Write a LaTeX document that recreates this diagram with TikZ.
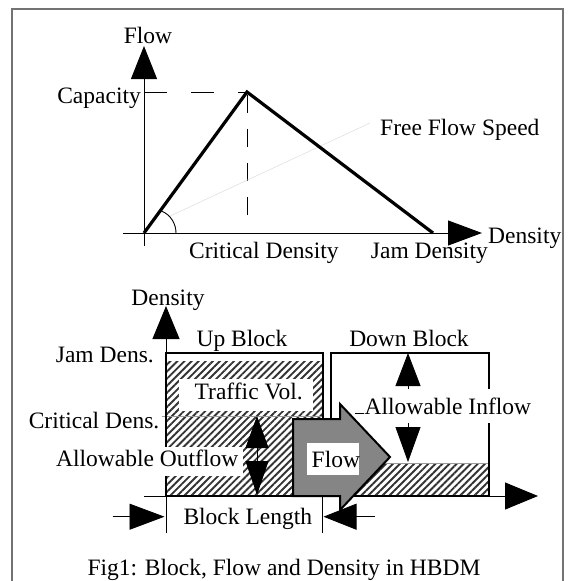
\documentclass[tikz,border=0pt]{standalone}
\usepackage{fontspec}
\setmainfont{Liberation Serif}
\usetikzlibrary{arrows.meta,patterns.meta}
\begin{document}
\begin{tikzpicture}[x=1pt,y=-1pt,
  font=\fontsize{23.5}{28}\selectfont,
  txt/.style={inner sep=0pt},
  axisline/.style={line width=1pt},
  blockline/.style={line width=2.2pt},
  hatch/.style={pattern={Lines[angle=45,distance=5pt,line width=1.9pt]},pattern color=black!80},
  thinrule/.style={black!40,line width=0.6pt}]
\useasboundingbox (0,0) rectangle (573,581);
% frame
\draw[black!55,line width=1.2pt] (12,9) rectangle (563,640);

% ---------- top chart ----------
\coordinate (O) at (144,233);
\coordinate (YB) at (144,246);
\coordinate (YT) at (144,46);
\coordinate (XL) at (123,233);
\coordinate (XR) at (482,233);
\coordinate (P) at (247,92);
\coordinate (J) at (433,233);
\coordinate (CapL) at (144,92);
\coordinate (CritT) at (247,95);
\coordinate (CritB) at (247,215);
\coordinate (FF1) at (168,217);
\coordinate (FF2) at (370,123);
\coordinate (ArcA) at (176,233);
\coordinate (ArcB) at (161.5,211);

\draw[axisline,-{Triangle[length=33pt,width=26pt]}] (YB) -- (YT);
\draw[axisline,-{Triangle[length=34pt,width=25pt]}] (XL) -- (XR);
\draw[line width=1pt,dash pattern=on 23pt off 24pt] (CapL) -- (P);
\draw[line width=1pt,dash pattern=on 18pt off 16pt] (CritT) -- (CritB);
\draw[black!12,line width=0.6pt] (FF1) -- (FF2);
\draw[line width=0.9pt] (ArcA) .. controls (176,224) and (171,215) .. (ArcB);
\draw[line width=3.2pt] (O) -- (P) -- (J);

\node[txt,anchor=base] (tFlow) at (148,43) {Flow};
\node[txt,anchor=base east] (tCap) at (141,103.5) {Capacity};
\node[txt,anchor=base west] (tFFS) at (380,135) {Free Flow Speed};
\node[txt,anchor=base west] (tCrit) at (189,258) {Critical Density};
\node[txt,anchor=base east] (tJam) at (488,258) {Jam Density};
\node[txt,anchor=base west] (tDensX) at (488,243) {Density};

% ---------- bottom chart ----------
\coordinate (BYB) at (166,533);
\coordinate (BYT) at (166,306);
\coordinate (BXL) at (144,496);
\coordinate (BXR) at (538,496);

\fill[hatch] (166,361) rectangle (323,496);
\fill[hatch] (331,463) rectangle (489,496);
\draw[thinrule] (331,463) -- (489,463);
\draw[thinrule] (162,416) -- (323,416);
\fill[white] (179,379) rectangle (313,411);

\draw[axisline,-{Triangle[length=33pt,width=27pt]}] (BXL) -- (BXR);
\draw[axisline,-{Triangle[length=33pt,width=27pt]}] (BYB) -- (BYT);

\draw[blockline] (166,353) rectangle (323,496);
\draw[blockline] (331,353) rectangle (489,496);

% white box behind Allowable Outflow
\fill[white] (56,447) rectangle (243,476);

% flow arrow
\draw[line width=2pt,fill=black!48,line join=miter]
  (293,419) -- (340,419) -- (340,404) -- (390,457) -- (340,510) -- (340,496) -- (293,496) -- cycle;
\fill[white] (307,443) rectangle (359,475);
\node[txt,anchor=base west] (tFlowB) at (311.5,467.3) {Flow};

% allowable outflow arrows
\coordinate (OutM) at (257,455);
\coordinate (OutT) at (257,416);
\coordinate (OutB) at (257,495);
\draw[line width=0.8pt,-{Triangle[length=32pt,width=23pt]}] (OutM) -- (OutT);
\draw[line width=0.8pt,-{Triangle[length=34pt,width=23pt]}] (OutM) -- (OutB);

% allowable inflow arrows
\coordinate (InM) at (408,405);
\coordinate (InT) at (408,353);
\coordinate (InB) at (408,462);
\draw[line width=0.8pt,-{Triangle[length=33pt,width=25pt]}] (InM) -- (InT);
\draw[line width=0.8pt,-{Triangle[length=35pt,width=25pt]}] (InM) -- (InB);
\fill[white] (364,389) rectangle (531,423);
\draw[line width=0.8pt] (355,413.5) -- (364,413.5);

% block length
\coordinate (TkR1) at (322,496);
\coordinate (TkR2) at (322,533);
\coordinate (BLl) at (112.6,516.7);
\coordinate (BLlt) at (164.5,516.7);
\coordinate (BLr) at (374.6,516.7);
\coordinate (BLrt) at (323.5,516.7);
\draw[line width=0.8pt] (TkR1) -- (TkR2);
\draw[line width=0.8pt,-{Triangle[length=35pt,width=26pt]}] (BLl) -- (BLlt);
\draw[line width=0.8pt,-{Triangle[length=33pt,width=26pt]}] (BLr) -- (BLrt);

\node[txt,anchor=base] (tDensY) at (168,305) {Density};
\node[txt,anchor=base] (tUp) at (242,346.7) {Up Block};
\node[txt,anchor=base] (tDown) at (409,346.7) {Down Block};
\node[txt,anchor=base east] (tJamD) at (154,362) {Jam Dens.};
\node[txt,anchor=base east] (tCritD) at (159.5,428.5) {Critical Dens.};
\node[txt,anchor=base west] (tTraffic) at (194.5,399.3) {Traffic Vol.};
\node[txt,anchor=base east] (tOut) at (238.5,466.7) {Allowable Outflow};
\node[txt,anchor=base west] (tIn) at (364.5,414.3) {Allowable Inflow};
\node[txt,anchor=base west] (tBL) at (183.3,524) {Block Length};
\node[txt,anchor=base] (tCap2) at (284,575.5) {Fig1: Block, Flow and Density in HBDM};
\end{tikzpicture}
\end{document}
